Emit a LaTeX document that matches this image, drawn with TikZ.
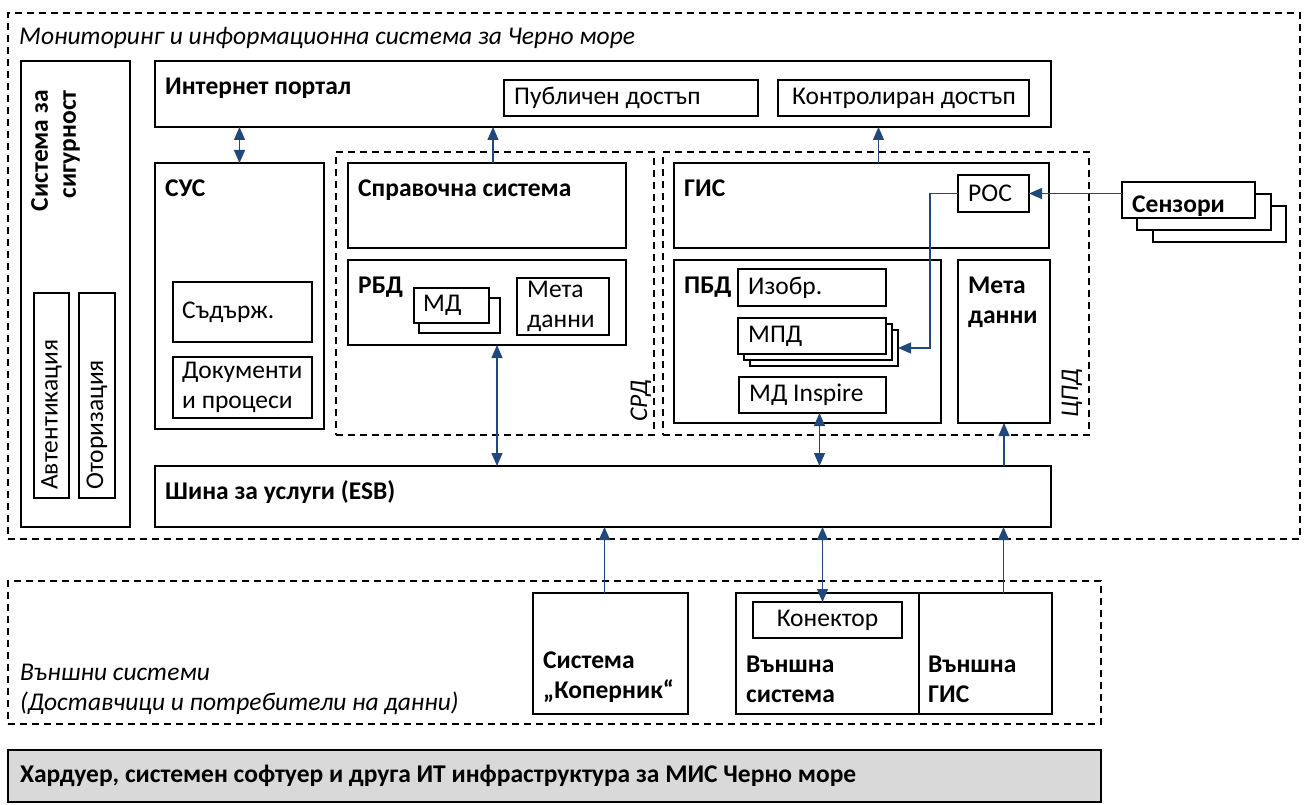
\documentclass[tikz,border=0pt]{standalone}
\usepackage{fontspec}
\setmainfont{Carlito}
\usetikzlibrary{arrows.meta}
\definecolor{arrblue}{RGB}{31,73,125}
\definecolor{hwgray}{RGB}{217,217,217}
\tikzset{
	box/.style={draw, line width=1.2pt, inner sep=0pt, outer sep=0pt, anchor=north west, fill=white},
	dbox/.style={box, fill=none, dash pattern=on 7pt off 5pt},
	ttl/.style={font=\bfseries, anchor=north west, inner xsep=10pt, inner ysep=17pt, align=left},
	txt/.style={anchor=west, inner xsep=10pt, inner ysep=0pt, align=left},
	vtxt/.style={rotate=90, anchor=west, inner xsep=8pt, inner ysep=0pt},
	arr/.style={draw=arrblue, line width=1.2pt, -{Triangle[length=13pt,width=11pt]}},
	darr/.style={draw=arrblue, line width=1.2pt, {Triangle[length=13pt,width=11pt]}-{Triangle[length=13pt,width=11pt]}}
}

\begin{document}
\fontsize{25.5}{30}\selectfont
\begin{tikzpicture}[x=1pt,y=-1pt]
	%%%%% START %%%%%
	\useasboundingbox (0,0) rectangle (1310,805);

	% MIS frame
	\node[dbox, minimum width=1292, minimum height=526] (mis) at (8,13) {};
	\node[anchor=base west, inner sep=0pt, font=\itshape] (lmis) at ([shift={(11,32)}]mis.north west) {Мониторинг и информационна система за Черно море};

	% security
	\node[box, minimum width=109, minimum height=466] (sec) at (21,61) {};
	\node[ttl, rotate=90, align=right, anchor=north east, inner xsep=29pt, inner ysep=10pt, font=\bfseries\fontsize{25.5}{28}\selectfont] (lsec) at (sec.north west) {Система за\\сигурност};
	\node[box, minimum width=35, minimum height=205] (auth) at (34,293) {};
	\node[box, minimum width=36, minimum height=205] (authz) at (79,293) {};
	\node[vtxt] (lauth) at (auth.south) {Автентикация};
	\node[vtxt] (lauthz) at (authz.south) {Оторизация};

	% portal
	\node[box, minimum width=896, minimum height=66] (portal) at (155,61) {};
	\node[ttl] (tportal) at (portal.north west) {Интернет портал};
	\node[box, minimum width=254, minimum height=36] (pub) at (504,80) {};
	\node[txt] (lpub) at (pub.west) {Публичен достъп};
	\node[box, minimum width=251, minimum height=36] (ctrl) at (778,80) {};
	\node[txt, inner xsep=14pt] (lctrl) at (ctrl.west) {Контролиран достъп};

	% CUS
	\node[box, minimum width=169, minimum height=266] (cus) at (155,163) {};
	\node[ttl] (tcus) at (cus.north west) {СУС};
	\node[box, minimum width=139, minimum height=60] (cont) at (173,282) {};
	\node[txt, inner xsep=9pt] (lcont) at (cont.west) {Съдърж.};
	\node[box, minimum width=139, minimum height=61] (docs) at (173,357) {};
	\node[txt, inner xsep=9pt] (ldocs) at (docs.west) {Документи\\и процеси};

	% SRD
	\node[dbox, minimum width=318, minimum height=283] (srd) at (336,152) {};
	\node[rotate=90, anchor=base west, inner sep=0pt, font=\itshape] (lsrd) at ([shift={(-7,-13)}]srd.south east) {СРД};
	\node[box, minimum width=278, minimum height=85] (ref) at (348,163) {};
	\node[ttl] (tref) at (ref.north west) {Справочна система};
	\node[box, minimum width=278, minimum height=85] (rbd) at (348,260) {};
	\node[ttl] (trbd) at (rbd.north west) {РБД};
	\node[box, minimum width=81, minimum height=35] (md2) at (419,298) {};
	\node[box, minimum width=75, minimum height=35] (md) at (414,288) {};
	\node[txt, inner xsep=9pt] (lmd) at (md.west) {МД};
	\node[box, minimum width=92, minimum height=57] (rmeta) at (517,278) {};
	\node[txt] (lrmeta) at (rmeta.west) {Мета\\данни};

	% CPD
	\node[dbox, minimum width=426, minimum height=283] (cpd) at (663,152) {};
	\node[rotate=90, anchor=base west, inner sep=0pt, font=\itshape] (lcpd) at ([shift={(-11,-17)}]cpd.south east) {ЦПД};
	\node[box, minimum width=375, minimum height=85] (gis) at (674,163) {};
	\node[ttl] (tgis) at (gis.north west) {ГИС};
	\node[box, minimum width=71, minimum height=37] (poc) at (958,175) {};
	\node[txt] (lpoc) at (poc.west) {РОС};
	\node[box, minimum width=267, minimum height=163] (pbd) at (674,260) {};
	\node[ttl] (tpbd) at (pbd.north west) {ПБД};
	\node[box, minimum width=148, minimum height=37] (img) at (738,269) {};
	\node[txt] (limg) at (img.west) {Изобр.};
	\node[box, minimum width=148, minimum height=36] (mpd3) at (750,330) {};
	\node[box, minimum width=148, minimum height=36] (mpd2) at (744,324) {};
	\node[box, minimum width=148, minimum height=36] (mpd) at (738,318) {};
	\node[txt] (lmpd) at (mpd.west) {МПД};
	\node[box, minimum width=147, minimum height=36] (insp) at (739,377) {};
	\node[txt] (linsp) at (insp.west) {МД Inspire};
	\node[box, minimum width=92, minimum height=163] (cmeta) at (958,260) {};
	\node[ttl] (tcmeta) at (cmeta.north west) {Мета\\данни};

	% sensors
	\node[box, minimum width=133, minimum height=36] (sens3) at (1153,206) {};
	\node[box, minimum width=134, minimum height=36] (sens2) at (1137,194) {};
	\node[box, minimum width=133, minimum height=36] (sens) at (1122,182) {};
	\node[ttl, anchor=base west, inner sep=0pt] (lsens) at ([shift={(10,-5)}]sens.south west) {Сензори};

	% ESB
	\node[box, minimum width=896, minimum height=61] (esb) at (155,466) {};
	\node[ttl, inner ysep=14pt] (tesb) at (esb.north west) {Шина за услуги (ESB)};

	% external systems
	\node[dbox, minimum width=1093, minimum height=143] (ext) at (8,581) {};
	\node[anchor=south west, inner xsep=12pt, inner ysep=9pt, align=left, font=\itshape] (lext) at (ext.south west) {Външни системи\\(Доставчици и потребители на данни)};
	\node[box, minimum width=155, minimum height=121] (cop) at (533,593) {};
	\node[ttl, anchor=south west, inner ysep=11pt] (lcop) at (cop.south west) {Система\\„Коперник“};
	\node[box, minimum width=183, minimum height=121] (exts) at (736,593) {};
	\node[ttl, anchor=south west, inner ysep=11pt] (lexts) at (exts.south west) {Външна\\система};
	\node[box, minimum width=133, minimum height=121] (extg) at (919,593) {};
	\node[ttl, anchor=south west, inner xsep=9pt, inner ysep=11pt] (lextg) at (extg.south west) {Външна\\ГИС};
	\node[box, minimum width=149, minimum height=36] (conn) at (753,602) {Конектор};

	% hardware
	\node[box, fill=hwgray, minimum width=1093, minimum height=52] (hw) at (8,750) {};
	\node[ttl, anchor=west, inner xsep=12pt, inner ysep=0pt] (lhw) at (hw.west) {Хардуер, системен софтуер и друга ИТ инфраструктура за МИС Черно море};

	% arrows
	\draw[darr] (cus.north) -- (cus.north |- portal.south);
	\draw[arr] ([xshift=6]ref.north) -- ([xshift=6]ref.north |- portal.south);
	\draw[arr] ([xshift=17]gis.north) -- ([xshift=17]gis.north |- portal.south);
	\draw[arr] (sens.west |- poc.east) -- (poc.east);
	\draw[arr] (poc.west) -- ++(-28,0) |- (mpd3.east);
	\draw[darr] ([xshift=10]rbd.south) -- ([xshift=10]rbd.south |- esb.north);
	\draw[darr] ([xshift=7]insp.south) -- ([xshift=7]insp.south |- esb.north);
	\draw[arr] (cmeta.south |- esb.north) -- (cmeta.south);
	\draw[arr] ([xshift=-6]cop.north) -- ([xshift=-6]cop.north |- esb.south);
	\draw[darr] ([xshift=-5]conn.north) -- ([xshift=-5]conn.north |- esb.south);
	\draw[arr] ([xshift=18]extg.north) -- ([xshift=18]extg.north |- esb.south);
	%%%%% END %%%%%
\end{tikzpicture}
\end{document}
